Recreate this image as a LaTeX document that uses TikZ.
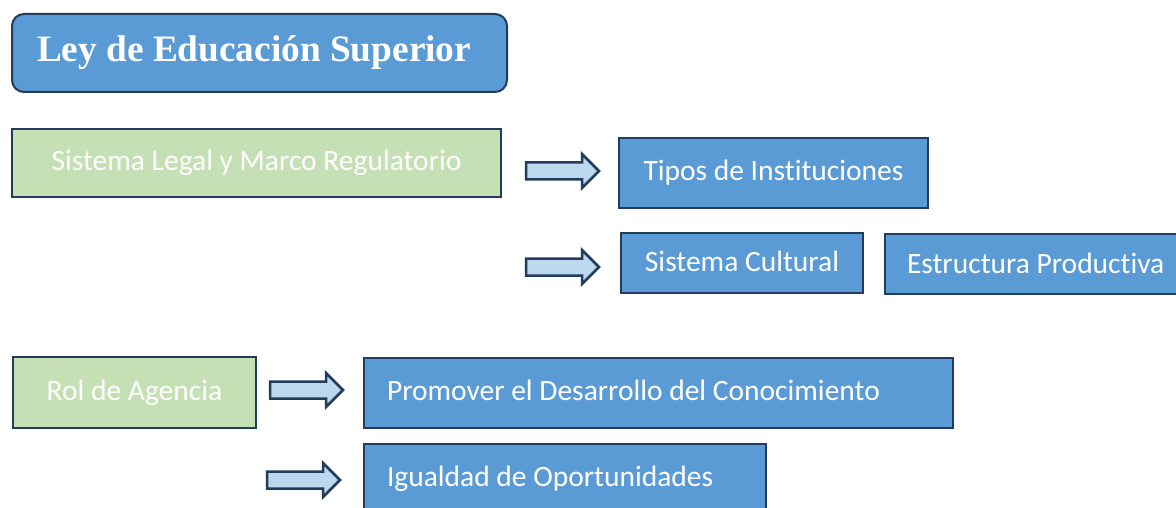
\documentclass[tikz,border=0pt]{standalone}
\usepackage{fontspec}
\setmainfont{Carlito}[RawFeature={-liga;-clig;-dlig}]
\newfontfamily\titlefont{Liberation Serif}
\definecolor{boxblue}{HTML}{5B9BD5}
\definecolor{boxgreen}{HTML}{C5E0B4}
\definecolor{arrowfill}{HTML}{BDD7EE}
\definecolor{edge}{HTML}{223D5C}
\tikzset{
  bluebox/.style={draw=edge, line width=2pt, fill=boxblue, text=white, anchor=north west,
    font=\fontsize{29.5}{32}\selectfont, inner sep=0pt},
  greenbox/.style={draw=edge, line width=2pt, fill=boxgreen, text=white, anchor=north west,
    font=\fontsize{29.5}{32}\selectfont, inner sep=0pt},
  blockarrow/.style={draw=edge, line width=2.5pt, fill=arrowfill, line join=miter},
  pics/barrow/.style={code={
    \path[blockarrow] (0,-8.5) -- (56,-8.5) -- (56,-17) -- (73,0) -- (56,17) -- (56,8.5) -- (0,8.5) -- cycle;
  }}
}
\begin{document}
\begin{tikzpicture}[x=1pt,y=-1pt]
\useasboundingbox (0,0) rectangle (1176,508);
% title
\node[draw=edge, line width=2pt, fill=boxblue, rounded corners=12pt, anchor=north west,
  minimum width=495pt, minimum height=78pt, inner sep=0pt, inner xsep=25pt, text width=445pt, align=flush left, text=white,
  font=\titlefont\bfseries\fontsize{37.3}{40}\selectfont] (title) at (11,13) {Ley de Educación Superior};
% green boxes
\node[greenbox, minimum width=489pt, minimum height=68pt] (legal) at (11,128) {\raisebox{5pt}{Sistema Legal y Marco Regulatorio}};
\node[greenbox, minimum width=243pt, minimum height=71pt] (rol) at (12,356) {\raisebox{5pt}{Rol de Agencia}};
% blue boxes
\node[bluebox, minimum width=309pt, minimum height=70pt] (tipos) at (618,137) {\raisebox{6pt}{Tipos de Instituciones}};
\node[bluebox, minimum width=242pt, minimum height=60pt] (cultural) at (620,232) {\raisebox{3pt}{Sistema Cultural}};
\node[bluebox, minimum width=310pt, minimum height=60pt, inner xsep=22pt, text width=266pt, align=flush left] (estruct) at (884,233) {\raisebox{2pt}{Estructura Productiva}};
\node[bluebox, minimum width=589pt, minimum height=70pt, inner xsep=23pt, text width=543pt, align=flush left] (promover) at (363,357) {\raisebox{6pt}{Promover el Desarrollo del Conocimiento}};
\node[bluebox, minimum width=402pt, minimum height=74pt, inner xsep=23pt, text width=356pt, align=flush left] (igualdad) at (363,443) {\raisebox{9pt}{Igualdad de Oportunidades}};
% block arrows
\pic (a1) at (526,171) {barrow};
\pic (a2) at (526,267) {barrow};
\pic (a3) at (270,390) {barrow};
\pic (a4) at (267,480) {barrow};
\end{tikzpicture}
\end{document}
